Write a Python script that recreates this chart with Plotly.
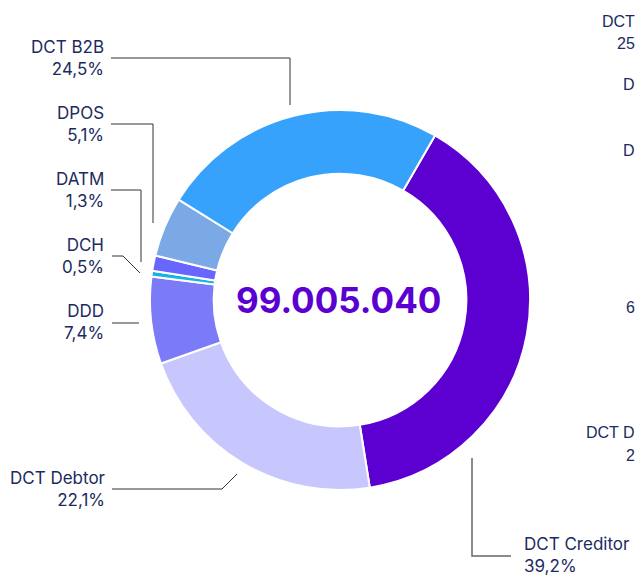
import plotly.graph_objects as go

# ---- data ----
categories = ["DCT Creditor", "DCT Debtor", "DDD", "DCH", "DATM", "DPOS", "DCT B2B"]
shares = [39.2, 22.1, 7.4, 0.5, 1.3, 5.1, 24.5]
colors = ["#5B00D1", "#C8C7FD", "#7B7BF8", "#17B3E6", "#6966FF", "#7BA9E6", "#36A2FB"]
total_label = "99.005.040"

# visible fragments of the neighbouring chart's labels at the right edge
side_texts = ["DCT", "25", "D", "D", "6", "DCT D", "2"]

W, H = 637, 577
TEXT = "#1B2B5E"
FONT = "Inter"


def px(x, y):
    return x / W, 1 - y / H


cx, cy, r = 340, 300, 190
fig = go.Figure(go.Pie(
    labels=categories,
    values=shares,
    sort=False,
    direction="clockwise",
    rotation=30,
    hole=0.665,
    marker=dict(colors=colors, line=dict(color="white", width=2)),
    textinfo="none",
    hoverinfo="label+percent",
    showlegend=False,
    domain=dict(x=[(cx - r) / W, (cx + r) / W], y=[(H - cy - r) / H, (H - cy + r) / H]),
))

# label layout: (x, y, anchor, leader polyline)
label_layout = {
    "DCT B2B": (106, 58, "right", [(111, 58), (290, 58), (290, 105)]),
    "DPOS": (106, 124, "right", [(111, 124), (153, 124), (153, 223)]),
    "DATM": (106, 190, "right", [(111, 190), (141, 190), (141, 262)]),
    "DCH": (106, 256, "right", [(112, 256), (123, 256), (140, 273)]),
    "DDD": (106, 322, "right", [(112, 323), (139, 323)]),
    "DCT Debtor": (108, 489, "right", [(112, 489), (222, 489), (237, 474)]),
    "DCT Creditor": (522, 555, "left", [(472, 458), (472, 556), (511, 556)]),
}

annotations = []
shapes = []
for name, val in zip(categories, shares):
    x, y, anchor, pts = label_layout[name]
    txt = f"{name}<br>{val:.1f}".replace(".", ",") + "%"
    ax, ay = px(x, y)
    annotations.append(dict(
        x=ax, y=ay, xref="paper", yref="paper", text=txt, showarrow=False,
        xanchor=anchor, yanchor="middle", align=anchor,
        font=dict(family=FONT, size=17, color=TEXT),
    ))
    path = ""
    for i, (lx, ly) in enumerate(pts):
        qx, qy = px(lx, ly)
        path += ("M" if i == 0 else " L") + f"{qx},{qy}"
    lc = "#666666" if name == "DCT Creditor" else "#333333"
    lw = 1.5 if name == "DCT Creditor" else 1
    shapes.append(dict(type="path", path=path, xref="paper", yref="paper",
                       line=dict(color=lc, width=lw)))

# centre total
annotations.append(dict(
    x=px(338, 300)[0], y=px(338, 300)[1], xref="paper", yref="paper",
    text=f"<b>{total_label}</b>", showarrow=False, xanchor="center", yanchor="middle",
    font=dict(family=FONT, size=35, color="#5B00D1"),
))

# neighbouring chart fragments at the right edge (kept inside the canvas)
side_pos = [(637, 21), (637, 43), (637, 85), (637, 150), (637, 307), (637, 432), (637, 455)]
for t, (sx, sy) in zip(side_texts, side_pos):
    ax, ay = px(sx, sy)
    annotations.append(dict(
        x=ax, y=ay, xref="paper", yref="paper", text=t, showarrow=False,
        xanchor="right", yanchor="middle",
        font=dict(family="Liberation Sans", size=16, color=TEXT),
    ))

fig.update_layout(
    width=W, height=H,
    margin=dict(l=0, r=0, t=0, b=0),
    paper_bgcolor="white", plot_bgcolor="white",
    annotations=annotations, shapes=shapes,
)

fig.write_html(
    "out.html",
    config={"displayModeBar": False},
    post_script="document.body.style.margin='0';document.body.style.overflow='hidden';",
)
